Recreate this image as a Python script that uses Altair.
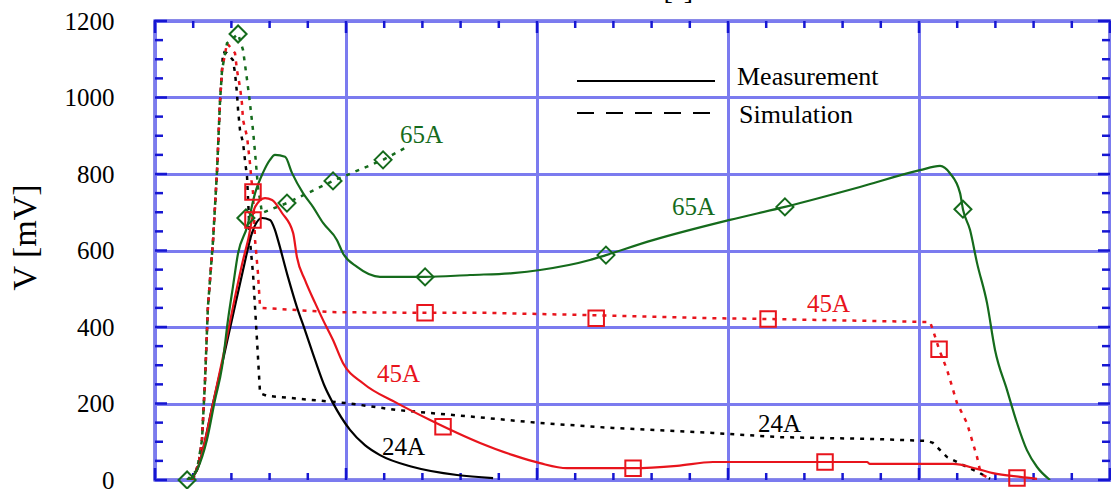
import altair as alt
import pandas as pd

# ---- measured curves (x: time axis units, v: voltage in mV) ----
m24_x = [0.183, 0.220, 0.304, 0.356, 0.408, 0.461, 0.508, 0.560, 0.602, 0.628, 0.644, 0.696,
         0.743, 0.785, 0.838, 0.890, 0.932, 1.021, 1.099, 1.178, 1.351, 1.581, 1.770]
m24_v = [0, 26, 201, 314, 431, 549, 646, 685, 680, 654, 627, 531,
         452, 392, 314, 243, 201, 131, 91, 65, 34, 13, 5]

m45_x = [0.183, 0.220, 0.304, 0.356, 0.408, 0.461, 0.487, 0.524, 0.576, 0.613, 0.665, 0.723,
         0.743, 0.785, 0.838, 0.880, 0.932, 0.984, 1.089, 1.267, 1.440, 1.702, 1.874, 2.016,
         2.157, 2.503, 2.733, 2.921, 3.728, 3.743, 4.178, 4.304, 4.387, 4.529, 4.618]
m45_v = [0, 26, 201, 322, 452, 575, 627, 714, 737, 732, 698, 646,
         583, 523, 463, 418, 366, 306, 253, 201, 157, 97, 65, 44,
         31, 31, 37, 47, 47, 42, 42, 29, 18, 8, 3]

m65_x = [0.183, 0.220, 0.272, 0.314, 0.351, 0.382, 0.408, 0.435, 0.482, 0.524, 0.565, 0.602,
         0.628, 0.681, 0.717, 0.775, 0.827, 0.880, 0.953, 0.984, 1.058, 1.178, 1.414, 1.649,
         1.874, 2.016, 2.277, 2.361, 2.607, 3.010, 3.298, 3.691, 4.005, 4.110, 4.162, 4.215,
         4.230, 4.267, 4.304, 4.356, 4.398, 4.461, 4.513, 4.565, 4.618, 4.686]
m65_v = [0, 26, 105, 209, 295, 418, 505, 593, 661, 750, 803, 837,
         850, 845, 803, 750, 714, 672, 627, 593, 557, 531, 531, 536,
         541, 549, 575, 588, 627, 680, 714, 766, 810, 821, 802, 750,
         708, 654, 567, 463, 340, 235, 149, 78, 34, 0]

# ---- simulated curves ----
s24_x = [0.199, 0.230, 0.246, 0.262, 0.277, 0.304, 0.325, 0.340, 0.351, 0.356, 0.377, 0.408,
         0.419, 0.429, 0.435, 0.445, 0.461, 0.471, 0.482, 0.497, 0.513, 0.534, 0.550, 0.586,
         1.005, 1.267, 1.738, 2.016, 2.398, 2.921, 3.272, 3.780, 4.042, 4.073, 4.147, 4.251,
         4.319, 4.372]
s24_v = [0, 47, 105, 261, 452, 627, 810, 986, 1072, 1119, 1116, 1098,
         1064, 1012, 967, 915, 881, 837, 792, 627, 541, 366, 227, 220,
         201, 183, 162, 149, 136, 123, 112, 107, 102, 97, 60, 34,
         18, 3]

s45_x = [0.199, 0.230, 0.246, 0.262, 0.277, 0.304, 0.325, 0.340, 0.351, 0.377, 0.419, 0.429,
         0.445, 0.455, 0.461, 0.482, 0.497, 0.505, 0.513, 0.524, 0.539, 0.550, 0.560, 0.916,
         1.414, 1.738, 2.277, 2.921, 3.204, 4.058, 4.073, 4.105, 4.147, 4.199, 4.251, 4.304,
         4.319, 4.335, 4.372]
s45_v = [0, 47, 105, 261, 452, 627, 810, 986, 1072, 1142, 1116, 1072,
         1027, 986, 941, 897, 829, 784, 753, 627, 541, 452, 450, 439,
         437, 437, 431, 423, 421, 413, 392, 342, 288, 201, 149, 60,
         26, 13, 3]

s65_x = [0.168, 0.220, 0.246, 0.262, 0.277, 0.304, 0.325, 0.340, 0.351, 0.377, 0.435, 0.461,
         0.482, 0.497, 0.513, 0.524, 0.539, 0.550, 0.560, 0.691, 0.932, 1.194, 1.309]
s65_v = [0, 26, 105, 261, 452, 627, 810, 986, 1072, 1142, 1166, 1124,
         1046, 986, 915, 855, 766, 732, 698, 724, 782, 837, 868]

# ---- symbols placed along the curves ----
dia_x = [0.476, 1.414, 2.361, 3.298, 4.230, 0.168, 0.435, 0.691, 0.932, 1.194]
dia_v = [685, 531, 588, 714, 708, 0, 1166, 724, 782, 837]
sq_x = [0.513, 1.508, 2.503, 3.508, 4.513, 0.513, 1.414, 2.310, 3.210, 4.105]
sq_v = [680, 139, 31, 47, 5, 753, 437, 423, 421, 342]

# ---- curve labels ----
lab_text = ["65A", "65A", "45A", "45A", "24A", "24A"]
lab_x = [1.283, 2.707, 3.414, 1.162, 1.188, 3.157]
lab_v = [881, 693, 439, 256, 65, 125]
lab_col = ["#156b1c", "#156b1c", "#e8141c", "#e8141c", "#000000", "#000000"]

# ---- axis ticks ----
x_major = [0, 1, 2, 3, 4, 5]
x_minor = [round(i * 0.2, 1) for i in range(26) if i % 5 != 0]
y_major = [0, 200, 400, 600, 800, 1000, 1200]
y_minor = [v for v in range(0, 1201, 50) if v % 200 != 0]

W, H = 955, 459
GREEN = "#156b1c"
RED = "#e8141c"
BLACK = "#000000"
BLUE = "#1616d2"
GRID = "#7b7bef"
FONT = "Liberation Serif"

xs = alt.Scale(domain=[0, 5], nice=False, zero=False)
ys = alt.Scale(domain=[0, 1200], nice=False)

x_axis = alt.Axis(values=x_major, grid=True, gridColor=GRID, gridWidth=3, labels=False,
                  ticks=False, tickSize=0, domain=False, title=None)
y_axis = alt.Axis(values=y_major, format="d", grid=True, gridColor=GRID, gridWidth=3,
                  ticks=False, tickSize=0, domain=False, labelFont=FONT, labelFontSize=25,
                  labelColor=BLACK, labelPadding=41, title="V [mV]", titleFont=FONT,
                  titleFontSize=34, titleFontWeight="normal", titleColor=BLACK,
                  titleAngle=270, titleX=-120, titleY=216, titleAlign="center",
                  titleBaseline="alphabetic")

X = alt.X("x:Q", scale=xs, axis=x_axis)
Y = alt.Y("v:Q", scale=ys, axis=y_axis)


def frame(xv, vv):
    return pd.DataFrame({"x": xv, "v": vv, "i": range(len(xv))})


def curve(xv, vv, color, dashed):
    kw = dict(color=color, strokeWidth=2.5 if dashed else 2.2, clip=True)
    if dashed:
        kw["strokeDash"] = [4, 6]
    else:
        kw["interpolate"] = "monotone"
    return alt.Chart(frame(xv, vv)).mark_line(**kw).encode(x=X, y=Y, order="i:Q")


layers = []

# inward tick marks on all four sides
tick_x_major = pd.DataFrame({"x": x_major})
tick_x_minor = pd.DataFrame({"x": x_minor})
tick_y_major = pd.DataFrame({"v": y_major})
tick_y_minor = pd.DataFrame({"v": y_minor})
for df, ln in ((tick_x_major, 12), (tick_x_minor, 7)):
    layers.append(alt.Chart(df).mark_rule(color=BLUE, strokeWidth=2.5).encode(
        x=X, y=alt.value(H), y2=alt.value(H - ln)))
    layers.append(alt.Chart(df).mark_rule(color=BLUE, strokeWidth=2.5).encode(
        x=X, y=alt.value(0), y2=alt.value(ln)))
for df, ln in ((tick_y_major, 12), (tick_y_minor, 8)):
    layers.append(alt.Chart(df).mark_rule(color=BLUE, strokeWidth=2.5).encode(
        y=Y, x=alt.value(0), x2=alt.value(ln)))
    layers.append(alt.Chart(df).mark_rule(color=BLUE, strokeWidth=2.5).encode(
        y=Y, x=alt.value(W), x2=alt.value(W - ln)))

# simulations (dotted) then measurements (solid)
layers += [
    curve(s24_x, s24_v, BLACK, True),
    curve(s45_x, s45_v, RED, True),
    curve(s65_x, s65_v, GREEN, True),
    curve(m24_x, m24_v, BLACK, False),
    curve(m45_x, m45_v, RED, False),
    curve(m65_x, m65_v, GREEN, False),
]

layers.append(alt.Chart(frame(dia_x, dia_v)).mark_point(
    shape="diamond", filled=False, size=290, strokeWidth=2, color=GREEN, opacity=1,
    clip=False).encode(x=X, y=Y))
layers.append(alt.Chart(frame(sq_x, sq_v)).mark_point(
    shape="square", filled=False, size=240, strokeWidth=2, color=RED, opacity=1,
    clip=False).encode(x=X, y=Y))

labels = pd.DataFrame({"x": lab_x, "v": lab_v, "t": lab_text, "c": lab_col})
layers.append(alt.Chart(labels).mark_text(
    font=FONT, fontSize=25, align="left", baseline="alphabetic").encode(
    x=X, y=Y, text="t:N", color=alt.Color("c:N", scale=None)))

# legend
layers.append(alt.Chart(pd.DataFrame({"k": [0]})).mark_rule(color=BLACK, strokeWidth=2.2).encode(
    x=alt.value(422), x2=alt.value(560), y=alt.value(60)))
layers.append(alt.Chart(pd.DataFrame({"k": [0]})).mark_rule(
    color=BLACK, strokeWidth=2.2, strokeDash=[17, 12]).encode(
    x=alt.value(422), x2=alt.value(560), y=alt.value(92)))
layers.append(alt.Chart(pd.DataFrame({"k": [0]})).mark_text(
    font=FONT, fontSize=26, align="left", baseline="alphabetic", color=BLACK,
    text="Measurement").encode(x=alt.value(582), y=alt.value(64)))
layers.append(alt.Chart(pd.DataFrame({"k": [0]})).mark_text(
    font=FONT, fontSize=26, align="left", baseline="alphabetic", color=BLACK,
    text="Simulation").encode(x=alt.value(584), y=alt.value(102)))

# x-axis title above the frame
layers.append(alt.Chart(pd.DataFrame({"k": [0]})).mark_text(
    font=FONT, fontSize=28, align="right", baseline="alphabetic", color=BLACK,
    text="t [s]").encode(x=alt.value(538), y=alt.value(-22)))

chart = alt.layer(*layers).properties(
    width=W, height=H,
    autosize=alt.AutoSizeParams(type="none"),
    padding={"left": 155, "top": 21, "right": 1, "bottom": 9},
    background="white",
).configure_view(stroke=BLUE, strokeWidth=3)

chart.save("out.html", embed_options={"renderer": "svg", "actions": False})
